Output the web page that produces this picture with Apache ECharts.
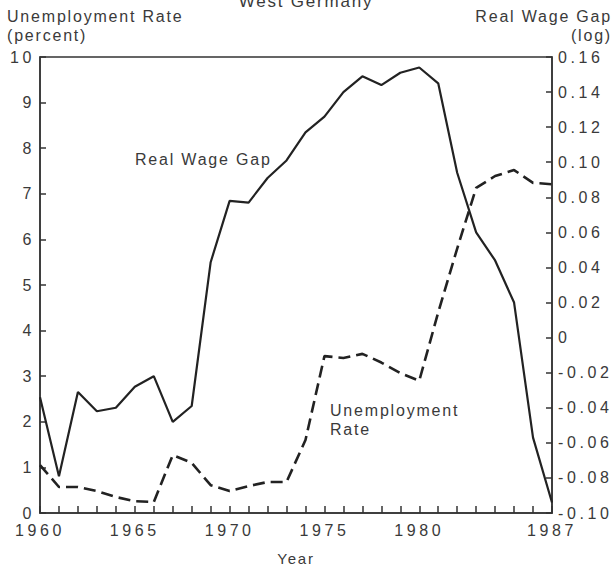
<!DOCTYPE html>
<html><head><meta charset="utf-8">
<script src="https://cdn.jsdelivr.net/npm/echarts@6/dist/echarts.min.js"></script>
<style>html,body{margin:0;padding:0;background:#fff}#c{width:615px;height:577px}
#c svg text{letter-spacing:1.8px}</style>
</head><body><div id="c"></div>
<script>
var years = [];
for (var y = 1960; y <= 1987; y++) years.push(y);
var wageGap = [-0.034,-0.079,-0.031,-0.042,-0.040,-0.028,-0.022,-0.048,-0.039,0.043,0.078,0.077,0.091,0.101,0.117,0.126,0.140,0.149,0.144,0.151,0.154,0.145,0.094,0.060,0.044,0.020,-0.057,-0.094];
var unemployment = [1.05,0.57,0.57,0.48,0.35,0.26,0.24,1.27,1.10,0.61,0.48,0.59,0.68,0.68,1.60,3.44,3.40,3.49,3.30,3.07,2.90,4.40,5.80,7.13,7.39,7.52,7.24,7.21];
var xLabelYears = [1960,1965,1970,1975,1980,1987];

var font = '"Liberation Sans", Arial, sans-serif';
var txt = '#3a3a3a';
var chart = echarts.init(document.getElementById('c'), null, {renderer:'svg'});
chart.setOption({
  animation:false,
  backgroundColor:'#fff',
  grid:{left:40,right:63,top:57,bottom:64,show:true,borderColor:'#333',borderWidth:1.5,backgroundColor:'transparent'},
  xAxis:{type:'value',min:1960,max:1987,interval:1,
    axisLine:{lineStyle:{color:'#333',width:1.5}},
    axisTick:{inside:true,length:7,lineStyle:{color:'#333',width:1.5}},
    splitLine:{show:false},
    axisLabel:{color:txt,fontFamily:font,fontSize:16,margin:9,
      formatter:function(v){return xLabelYears.indexOf(v)>=0 ? ''+v : '';}},
    name:'Year',nameLocation:'middle',nameGap:38,nameTextStyle:{color:txt,fontFamily:font,fontSize:15}
  },
  yAxis:[
    {type:'value',min:0,max:10,interval:1,position:'left',
      axisLine:{show:true,lineStyle:{color:'#333',width:1.5}},
      axisTick:{show:true,inside:true,length:6,lineStyle:{color:'#333',width:1.5}},
      splitLine:{show:false},
      axisLabel:{color:txt,fontFamily:font,fontSize:16,margin:5}
    },
    {type:'value',min:-0.10,max:0.16,interval:0.02,position:'right',
      axisLine:{show:true,lineStyle:{color:'#333',width:1.5}},
      axisTick:{show:true,inside:true,length:6,lineStyle:{color:'#333',width:1.5}},
      splitLine:{show:false},
      axisLabel:{color:txt,fontFamily:font,fontSize:16,margin:6,
        formatter:function(v){var r=Math.round(v*100)/100; if(Math.abs(r)<1e-9) return '0'; return r.toFixed(2);}}
    }
  ],
  series:[
    {type:'line',yAxisIndex:1,data:years.map(function(y,i){return [y,wageGap[i]];}),
      symbol:'none',lineStyle:{color:'#222',width:2.2}},
    {type:'line',yAxisIndex:0,data:years.map(function(y,i){return [y,unemployment[i]];}),
      symbol:'none',lineStyle:{color:'#222',width:2.6,type:[12,6]}}
  ],
  graphic:[
    {type:'text',x:306,y:-7,style:{text:'West Germany',fill:txt,font:'17px '+font,align:'center',verticalAlign:'top'}},
    {type:'text',x:7,y:7,style:{text:'Unemployment Rate\n(percent)',fill:txt,font:'16px '+font,lineHeight:19,align:'left',verticalAlign:'top'}},
    {type:'text',x:612,y:7,style:{text:'Real Wage Gap\n(log)',fill:txt,font:'16px '+font,lineHeight:19,align:'right',verticalAlign:'top'}},
    {type:'text',x:135,y:151,style:{text:'Real Wage Gap',fill:txt,font:'16px '+font,verticalAlign:'top'}},
    {type:'text',x:330,y:401,style:{text:'Unemployment\nRate',fill:txt,font:'16px '+font,lineHeight:19,verticalAlign:'top'}}
  ]
});
function spaceTicks(){
  var ts = document.querySelectorAll('#c svg text');
  for (var i=0;i<ts.length;i++){
    if (/^[-\u2212]?[0-9.]+$/.test(ts[i].textContent.trim())) ts[i].style.letterSpacing='3.6px';
  }
}
chart.on('finished', spaceTicks);
spaceTicks();
setTimeout(spaceTicks, 0);
setTimeout(spaceTicks, 200);
</script></body></html>
